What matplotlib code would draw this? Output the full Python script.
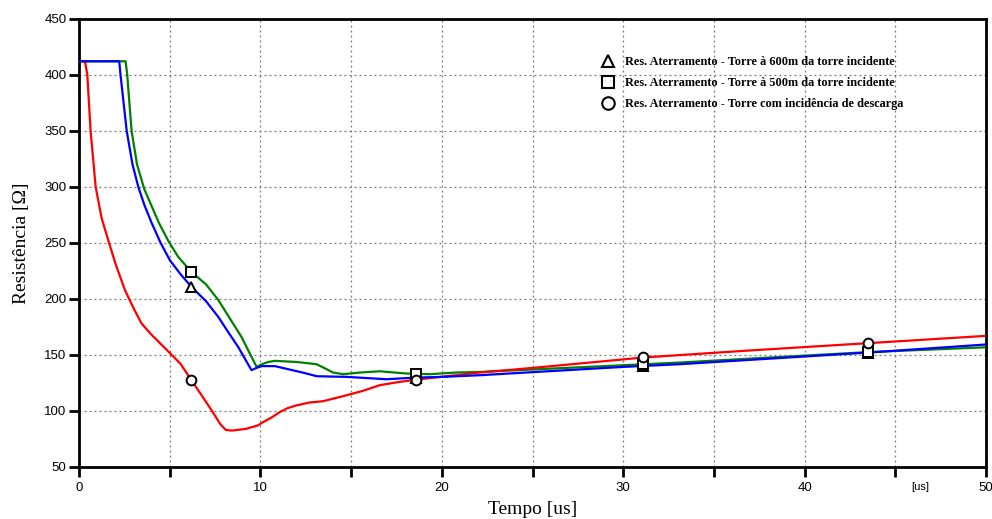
import numpy as np
import matplotlib
matplotlib.use("Agg")
import matplotlib.pyplot as plt
from matplotlib.lines import Line2D

# Ground resistance transients (time in us, resistance in ohms)
t_red = [0.0, 0.33, 0.46, 0.64, 0.92, 1.25, 1.62, 2.0, 2.53, 3.0, 3.45, 4.0, 4.37, 5.05, 5.6,
         6.2, 6.8, 7.31, 7.8, 8.1, 8.45, 9.2, 9.88, 10.16, 10.6, 11.07, 11.5, 12.0,
         12.7, 13.46, 14.75, 15.66, 16.58, 17.5, 18.6, 20.0, 22.1, 25.0, 30.0,
         31.1, 37.0, 43.5, 50.0]
r_red = [412, 412, 400, 350, 300, 272, 252, 232, 208, 192, 178, 168, 162, 151, 142,
         127.4, 113, 100.6, 88, 83, 82.5, 84, 87.2, 90.2, 94, 99, 102.5, 105,
         107.5, 108.7, 114, 118, 123, 125.5, 128, 130.5, 134.3, 138.4, 146,
         147.7, 154, 160.5, 167]

t_green = [0.0, 2.57, 2.66, 2.9, 3.2, 3.6, 4.0, 4.4, 4.95, 5.47, 6.2, 7.0, 7.69,
           8.3, 8.96, 9.79, 10.1, 10.43, 10.8, 12.0, 13.1, 13.5, 14.0, 14.56,
           15.5, 16.58, 18.05, 19.34, 20.8, 22.1, 30.0, 33.1, 43.5, 50.0]
r_green = [412, 412, 400, 350, 320, 298, 283, 268, 251, 237.5, 224, 213, 198.8,
           183, 166, 139.3, 141.8, 143.7, 144.7, 143.7, 141.7, 138.5, 134.3, 132.8,
           134.3, 135.4, 133.4, 132.8, 134.3, 134.8, 140.8, 143.2, 152.5, 156.8]

t_blue = [0.0, 2.22, 2.29, 2.63, 2.95, 3.27, 3.6, 4.0, 4.5, 5.01, 5.6, 6.2, 7.0,
          7.68, 8.2, 8.78, 9.51, 9.8, 10.07, 10.8, 11.6, 12.4, 13.1, 14.75,
          16.95, 18.6, 20.0, 22.1, 30.0, 33.1, 43.5, 50.0]
r_blue = [412, 412, 400, 350, 320, 300, 284, 268, 250, 234.5, 222, 210.7, 198,
          183.9, 171, 157, 136.4, 138.5, 140, 140, 137, 134, 131, 130.4,
          128.3, 129.8, 130.4, 131.9, 139.3, 141.7, 152.1, 159.3]

marker_t = [6.2, 18.6, 31.1, 43.5]

legend_labels = [
    "Res. Aterramento - Torre à 600m da torre incidente",
    "Res. Aterramento - Torre à 500m da torre incidente",
    "Res. Aterramento - Torre com incidência de descarga",
]

fig = plt.figure(figsize=(9.92, 5.19), dpi=100)
ax = fig.add_axes([0.0796, 0.1002, 0.9144, 0.8638])

lw = 1.6
ax.plot(t_green, r_green, color="#008000", lw=lw, zorder=3)
ax.plot(t_red, r_red, color="#ff0000", lw=lw, zorder=4)
ax.plot(t_blue, r_blue, color="#0000ff", lw=lw, zorder=5)

mk = dict(linestyle="none", markerfacecolor="white", markeredgecolor="black",
          markeredgewidth=1.4, markersize=7, zorder=6)
ax.plot(marker_t, np.interp(marker_t, t_blue, r_blue), marker="^", **mk)
ax.plot(marker_t, np.interp(marker_t, t_green, r_green), marker="s", **mk)
ax.plot(marker_t, np.interp(marker_t, t_red, r_red), marker="o", **mk)

ax.set_xlim(0, 50)
ax.set_ylim(50, 450)
ax.set_xticks(np.arange(0, 51, 5))
ax.set_xticklabels([str(v) if v % 10 == 0 else "" for v in range(0, 51, 5)])
ax.set_yticks(np.arange(50, 451, 50))

ax.grid(True, color="#777777", linestyle=(0, (1.5, 2.5)), linewidth=0.9)
ax.set_axisbelow(True)

for s in ax.spines.values():
    s.set_linewidth(2.0)
    s.set_color("black")

ax.tick_params(axis="both", direction="out", width=2, length=7,
               labelsize=9.5, colors="black", pad=2)
ax.tick_params(axis="x", pad=4)
for lab in ax.get_xticklabels() + ax.get_yticklabels():
    lab.set_fontfamily("Liberation Sans")

ax.set_xlabel("Tempo [us]", family="Liberation Serif", fontsize=14, labelpad=5)
ax.set_ylabel("Resistência [Ω]", family="Liberation Serif", fontsize=14, labelpad=10)

ax.text(0.928, -0.045, "[us]", transform=ax.transAxes, fontsize=8,
        family="Liberation Sans", ha="center", va="center")

handles = [
    Line2D([], [], marker="^", linestyle="none", markerfacecolor="white",
           markeredgecolor="black", markeredgewidth=1.5, markersize=9),
    Line2D([], [], marker="s", linestyle="none", markerfacecolor="white",
           markeredgecolor="black", markeredgewidth=1.5, markersize=9),
    Line2D([], [], marker="o", linestyle="none", markerfacecolor="white",
           markeredgecolor="black", markeredgewidth=1.5, markersize=9),
]
leg = ax.legend(handles, legend_labels, loc="upper left",
                bbox_to_anchor=(0.566, 0.935), frameon=False,
                prop={"family": "Liberation Serif", "weight": "bold", "size": 8.8},
                handletextpad=0.8, labelspacing=0.72, borderpad=0.2,
                handlelength=1.2)

fig.savefig("out.png", dpi=100)
